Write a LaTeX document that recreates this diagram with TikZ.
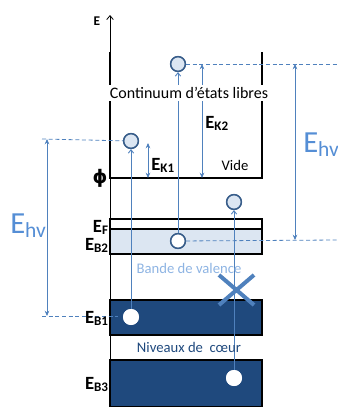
\documentclass[tikz,border=0pt]{standalone}
\usepackage{fontspec}
\setmainfont{Carlito}
\newfontfamily\symbfont{DejaVu Sans}
\usetikzlibrary{arrows.meta}
\definecolor{linkblue}{RGB}{79,129,189}
\definecolor{hvblue}{RGB}{85,142,213}
\definecolor{paleblue}{RGB}{142,180,227}
\definecolor{coreblue}{RGB}{31,73,125}
\definecolor{bandfill}{RGB}{220,230,242}
\definecolor{ballline}{RGB}{56,93,138}
\tikzset{
  ball/.style={circle,draw=ballline,fill=bandfill,line width=1.1pt,minimum size=11pt,inner sep=0pt},
  hole/.style={circle,fill=white,minimum size=12pt,inner sep=0pt},
  holeline/.style={hole,draw=ballline,line width=1.1pt,minimum size=11pt},
  level/.style={font=\bfseries\fontsize{14}{14}\selectfont,anchor=base east,inner sep=0pt},
  ekin/.style={font=\bfseries\fontsize{14}{14}\selectfont,anchor=base west,inner sep=0pt},
  ehv/.style={font=\fontsize{23}{23}\selectfont,text=hvblue,anchor=base west,inner sep=0pt},
  link/.style={linkblue,line width=0.7pt,-{Straight Barb[length=2.5pt,width=4pt]}},
  gap/.style={linkblue,line width=0.7pt,{Stealth[length=4pt,width=3.5pt]}-{Stealth[length=4pt,width=3.5pt]}},
  guide/.style={linkblue,line width=0.6pt,dash pattern=on 3pt off 2pt},
  wall/.style={line width=1.5pt},
  band/.style={draw=black,line width=1.1pt},
}
\begin{document}
\begin{tikzpicture}[x=0.75pt,y=0.75pt,yscale=-1,xscale=1]
\useasboundingbox (0,0) rectangle (338,407);

%Shape: bands
\draw [band,fill=white] (110,219) rectangle (262,229) ;
\draw [band,fill=bandfill] (110,229) rectangle (262,254) ;
\draw [band,fill=coreblue] (110,300) rectangle (262,335) ;
\draw [band,fill=coreblue] (110,360) rectangle (262,407) ;

%Straight Lines: energy axis
\draw [line width=0.6pt,-{Straight Barb[length=3pt,width=5pt]}] (110,407) -- (110,15) ;
%Shape: vacuum well
\draw [wall] (110,52) -- (110,178) -- (262,178) -- (262,52) ;

% Coordinates
\coordinate (lefttop) at (42,139) ;
\coordinate (leftbot) at (42,316) ;
\coordinate (hvtop) at (47,139) ;
\coordinate (hvbot) at (47,316) ;
\coordinate (righttop) at (338,64) ;
\coordinate (rightbot) at (338,240) ;
\coordinate (rhvtop) at (295,64) ;
\coordinate (rhvbot) at (295,240) ;
\coordinate (ekonetop) at (148,143) ;
\coordinate (ekonebot) at (148,178) ;
\coordinate (ektwotop) at (202,64) ;
\coordinate (ektwobot) at (202,178) ;

% Electrons
\node [ball] (free1) at (131,141) {} ;
\node [ball] (free2) at (178,64) {} ;
\node [ball] (free3) at (234,202) {} ;
\node [holeline] (val) at (178,241) {} ;
\node [hole] (core1) at (131,317) {} ;
\node [hole] (core3) at (234,378) {} ;

%Dashed Lines
\draw [guide] (lefttop) -- (free1) ;
\draw [guide] (leftbot) -- (118,316) ;
\draw [guide] (free2) -- (righttop) ;
\draw [guide] (val) -- (rightbot) ;

%Arrows
\draw [gap] (hvtop) -- (hvbot) ;
\draw [gap] (rhvtop) -- (rhvbot) ;
\draw [gap] (ekonetop) -- (ekonebot) ;
\draw [gap] (ektwotop) -- (ektwobot) ;
\draw [link] (core1) -- (free1) ;
\draw [link] (val) -- (free2) ;
\draw [link] (core3) -- (free3) ;

% Text Node
\node [fill=white,inner sep=2pt,font=\fontsize{12}{12}\selectfont] (cont) at (189,93) {Continuum d’états libres} ;

% redraw the electrons on top
\node [ball] at (free1) {} ;
\node [ball] at (free2) {} ;
\node [ball] at (free3) {} ;
\node [holeline] at (val) {} ;
\node [hole] at (core1) {} ;
\node [hole] at (core3) {} ;

%Shape: forbidden transition
\draw [linkblue,line width=3pt] (219,275) -- (254,305) (219,305) -- (254,275) ;

% Text Node
\node [font=\bfseries\fontsize{10}{10}\selectfont] (eaxis) at (97,21) {E} ;
% Text Node
\node [font=\symbfont\bfseries\fontsize{14}{14}\selectfont,inner sep=0pt] (phi) at (100,178) {ϕ} ;
% Text Node
\node [level] (ef) at (109,232) {E\textsubscript{F}} ;
\node [level] (eb2) at (109,250) {E\textsubscript{B2}} ;
\node [level] (eb1) at (109,323) {E\textsubscript{B1}} ;
\node [level] (eb3) at (109,389) {E\textsubscript{B3}} ;
% Text Node
\node [ekin] (ek1) at (151,170) {E\textsubscript{K1}} ;
\node [ekin] (ek2) at (205,128) {E\textsubscript{K2}} ;
% Text Node
\node [font=\fontsize{11}{11}\selectfont] (vide) at (235,165) {Vide} ;
% Text Node
\node [font=\fontsize{11}{11}\selectfont,text=paleblue] (valence) at (189,268) {Bande de valence} ;
% Text Node
\node [font=\fontsize{11}{11}\selectfont,text=coreblue] (coeur) at (189,347) {Niveaux de~ cœur} ;
% Text Node
\node [ehv] (ehvleft) at (10,233) {E\textsubscript{hv}} ;
\node [ehv] (ehvright) at (303,152) {E\textsubscript{hv}} ;

\end{tikzpicture}
\end{document}
